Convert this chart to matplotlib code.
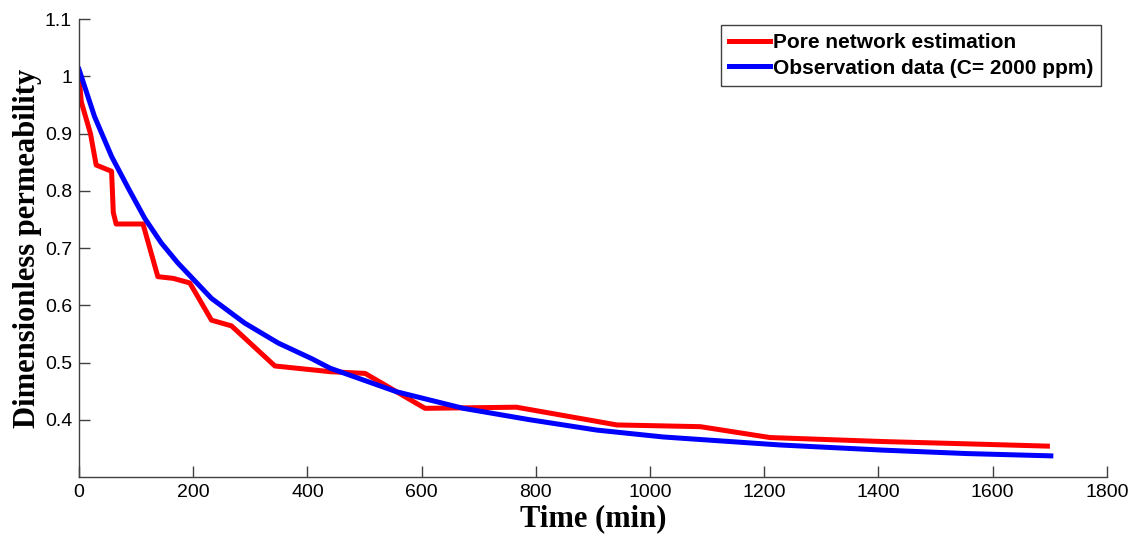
import matplotlib
matplotlib.use('Agg')  # sin ventana, solo archivo
import matplotlib.pyplot as plt

# Datos
t_red = [0, 4, 20, 30, 57, 60, 65, 112, 138, 165, 194, 232, 267, 343,
         440, 501, 606, 766, 942, 1088, 1210, 1408, 1555, 1696]
k_red = [1.0, 0.955, 0.90, 0.845, 0.834, 0.762, 0.742, 0.742, 0.650, 0.647,
         0.639, 0.574, 0.564, 0.494, 0.484, 0.481, 0.420, 0.422, 0.391,
         0.388, 0.369, 0.362, 0.358, 0.354]

t_blue = [0, 27, 57, 86, 115, 144, 173, 232, 290, 349, 407, 440, 556, 673,
          790, 907, 1023, 1140, 1228, 1408, 1555, 1702]
k_blue = [1.012, 0.930, 0.860, 0.805, 0.752, 0.709, 0.674, 0.612, 0.569,
          0.534, 0.507, 0.490, 0.449, 0.420, 0.400, 0.382, 0.370, 0.362,
          0.356, 0.347, 0.341, 0.337]

label_red = 'Pore network estimation'
label_blue = 'Observation data (C= 2000 ppm)'

x_ticks = [0, 200, 400, 600, 800, 1000, 1200, 1400, 1600, 1800]
y_ticks = [0.4, 0.5, 0.6, 0.7, 0.8, 0.9, 1.0, 1.1]
y_labels = ['0.4', '0.5', '0.6', '0.7', '0.8', '0.9', '1', '1.1']

fig = plt.figure(figsize=(11.34, 5.36), dpi=100)
ax = fig.add_axes([0.0697, 0.110, 0.9063, 0.8545])

ax.plot(t_red, k_red, color='#ff0000', lw=3.6, label=label_red)
ax.plot(t_blue, k_blue, color='#0000ff', lw=3.6, label=label_blue)

ax.set_xlim(0, 1800)
ax.set_ylim(0.3, 1.1)
ax.set_xticks(x_ticks)
ax.set_yticks(y_ticks)
ax.set_yticklabels(y_labels)

# estilo tipo MATLAB: sin caja, ticks hacia dentro
for s in ['top', 'right']:
    ax.spines[s].set_visible(False)
for s in ['left', 'bottom']:
    ax.spines[s].set_color('#404040')
    ax.spines[s].set_linewidth(1.0)
ax.tick_params(direction='in', length=8, width=1, color='#404040',
               labelsize=14, pad=5)
for lab in ax.get_xticklabels() + ax.get_yticklabels():
    lab.set_family('Liberation Sans')

ax.set_xlabel('Time (min)', family='Liberation Serif', fontweight='bold',
              fontsize=22, labelpad=2)
ax.set_ylabel('Dimensionless permeability', family='Liberation Serif',
              fontweight='bold', fontsize=22, labelpad=2)

leg = ax.legend(loc='upper right', bbox_to_anchor=(0.9945, 0.987),
                prop={'family': 'Liberation Sans', 'weight': 'bold', 'size': 15},
                fancybox=False, framealpha=1, edgecolor='#404040',
                handlelength=1.95, handletextpad=0.15, borderpad=0.38,
                labelspacing=0.33, borderaxespad=0)
leg.get_frame().set_linewidth(1.0)

fig.savefig('out.png', dpi=100)
